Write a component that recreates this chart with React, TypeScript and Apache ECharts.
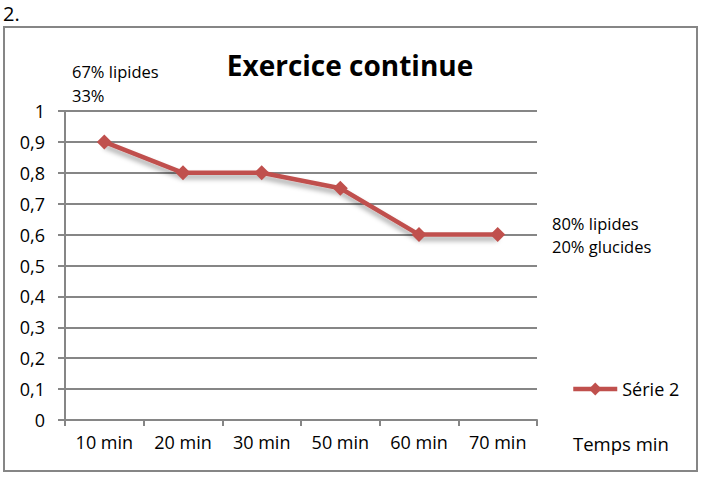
import React, { useEffect, useRef } from "react";
import * as echarts from "echarts";

const categories = ["10 min", "20 min", "30 min", "50 min", "60 min", "70 min"];
const serie2 = [0.9, 0.8, 0.8, 0.75, 0.6, 0.6];
const yTicks = [0, 0.1, 0.2, 0.3, 0.4, 0.5, 0.6, 0.7, 0.8, 0.9, 1];

const FONT = "Open Sans";
const GRAY = "#868686";
const RED = "#C0504D";

export default function App() {
  const ref = useRef<HTMLDivElement>(null);
  useEffect(() => {
    const chart = echarts.init(ref.current!, null, { renderer: "svg" });
    chart.setOption({
      animation: false,
      backgroundColor: "#fff",
      textStyle: { fontFamily: FONT },
      title: {
        text: "Exercice continue",
        left: 345,
        top: 46,
        textAlign: "center",
        textStyle: { fontFamily: FONT, fontSize: 28, fontWeight: "bold", color: "#000" },
      },
      legend: {
        data: ["Série 2"],
        left: 566,
        top: 375,
        itemWidth: 44,
        itemHeight: 16,
        itemGap: 5,
        lineStyle: { width: 4.5 },
        textStyle: { fontFamily: FONT, fontSize: 18, color: "#000", padding: [0, 0, 0, 0] },
      },
      grid: { left: 65, right: 164, top: 111, bottom: 57, containLabel: false },
      xAxis: {
        type: "category",
        data: categories,
        boundaryGap: true,
        axisLine: { lineStyle: { color: GRAY, width: 2 } },
        axisTick: { show: true, length: 6, interval: 0, lineStyle: { color: GRAY, width: 2 } },
        axisLabel: { fontFamily: FONT, fontSize: 18, color: "#000", margin: 13, interval: 0, hideOverlap: false },
      },
      yAxis: {
        type: "value",
        min: 0,
        max: 1,
        interval: 0.1,
        axisLine: { show: true, lineStyle: { color: GRAY, width: 2 } },
        axisTick: { show: true, length: 7, lineStyle: { color: GRAY, width: 2 } },
        splitLine: { show: true, lineStyle: { color: GRAY, width: 2 } },
        axisLabel: {
          fontFamily: FONT,
          fontSize: 18,
          color: "#000",
          margin: 20,
          formatter: (v: number) => {
            const t = yTicks.find((x) => Math.abs(x - v) < 1e-9);
            return String(t !== undefined ? t : v).replace(".", ",");
          },
        },
      },
      series: [
        {
          name: "Série 2",
          type: "line",
          data: serie2,
          symbol: "diamond",
          symbolSize: 15,
          itemStyle: { color: RED },
          lineStyle: {
            color: RED,
            width: 4.5,
            shadowColor: "rgba(0,0,0,0.35)",
            shadowBlur: 5,
            shadowOffsetY: 4,
          },
        },
      ],
      graphic: [
        {
          type: "rect",
          shape: { x: 4, y: 27, width: 693, height: 444 },
          style: { fill: "none", stroke: GRAY, lineWidth: 2 },
          z: -1,
        },
        { type: "text", left: 3, top: 3, style: { text: "2.", font: `20px "${FONT}"`, fill: "#000" } },
        { type: "text", left: 72, top: 63, style: { text: "67% lipides", font: `16.5px "${FONT}"`, fill: "#000" } },
        { type: "text", left: 72, top: 87, style: { text: "33%", font: `16.5px "${FONT}"`, fill: "#000" } },
        { type: "text", left: 552, top: 215, style: { text: "80% lipides", font: `16.5px "${FONT}"`, fill: "#000" } },
        { type: "text", left: 552, top: 238, style: { text: "20% glucides", font: `16.5px "${FONT}"`, fill: "#000" } },
        { type: "text", left: 573, top: 434, style: { text: "Temps min", font: `18.5px "${FONT}"`, fill: "#000" } },
      ],
    });
    return () => chart.dispose();
  }, []);
  return (
    <div
      ref={ref}
      style={{ position: "fixed", left: 0, top: 0, width: 701, height: 477 }}
    />
  );
}
